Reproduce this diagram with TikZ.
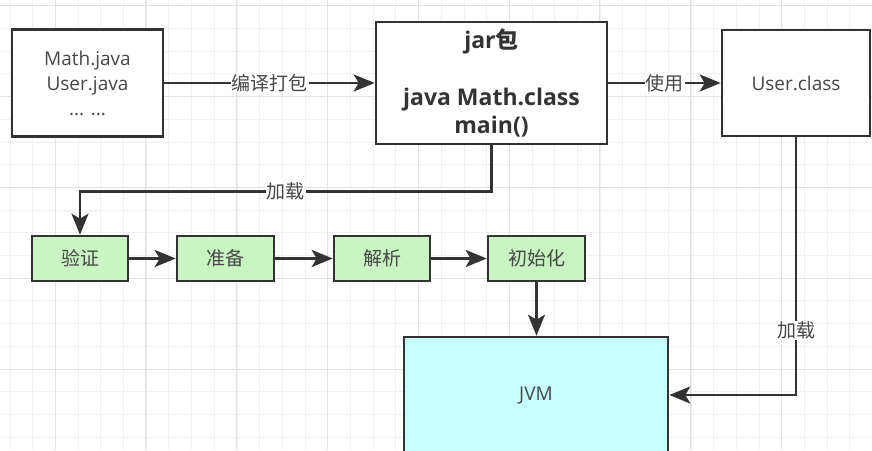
\documentclass[tikz,border=0pt]{standalone}
\usepackage{fontspec}
\setmainfont{Open Sans}
\newfontfamily\cjk{Noto Sans CJK SC}
\usetikzlibrary{arrows.meta}
\definecolor{ink}{HTML}{333333}
\definecolor{txt}{HTML}{474747}
\definecolor{stagefill}{HTML}{C8F5C2}
\definecolor{jvmfill}{HTML}{C6FFFF}
\definecolor{gridminor}{HTML}{F0F0F0}
\definecolor{gridmajor}{HTML}{E2E2E2}

\begin{document}
\begin{tikzpicture}[x=1pt,y=-1pt,
  box/.style={draw=ink, line width=2.6pt, fill=white, inner sep=0pt, align=center,
    text=txt, font=\fontsize{19}{25}\selectfont},
  stage/.style={box, fill=stagefill, minimum height=45pt, font=\cjk\fontsize{19}{25}\selectfont},
  arr/.style={draw=ink, line width=2.5pt, -{Stealth[length=21pt,width=17pt,inset=5pt]}},
  lbl/.style={fill=white, inner sep=1pt, text=txt, font=\cjk\fontsize{19}{22}\selectfont}]

% canvas and background grid
\useasboundingbox (0,0) rectangle (872,450);
\clip (0,0) rectangle (872,450);
\fill[white] (0,0) rectangle (872,450);
\foreach \k in {0,...,38} {
  \pgfmathsetmacro\gx{10+22.7*\k}
  \draw[gridminor, line width=1pt] (\gx,0) -- (\gx,450);
}
\foreach \k in {0,...,19} {
  \pgfmathsetmacro\gy{5.8+22.7*\k}
  \draw[gridminor, line width=1pt] (0,\gy) -- (872,\gy);
}
\foreach \k in {0,...,9} {
  \pgfmathsetmacro\gx{55+90.8*\k}
  \draw[gridmajor, line width=1pt] (\gx,0) -- (\gx,450);
}
\foreach \k in {0,...,4} {
  \pgfmathsetmacro\gy{5.8+90.8*\k}
  \draw[gridmajor, line width=1pt] (0,\gy) -- (872,\gy);
}

% top row
\node[box, minimum width=151pt, minimum height=107pt] (src) at (87.5,83)
  {Math.java\\User.java\\... ...};
\node[box, minimum width=231pt, minimum height=122pt, text=ink,
  font=\bfseries\fontsize{23}{28.5}\selectfont] (jar) at (491.5,83)
  {jar{\cjk\bfseries 包}\\[28.5pt]java Math.class\\main()};
\node[box, minimum width=148pt, minimum height=106pt] (cls) at (796,83) {User.class};

% loading stages
\node[stage, minimum width=96pt] (v) at (80,258.5) {验证};
\node[stage, minimum width=97pt] (p) at (225.5,258.5) {准备};
\node[stage, minimum width=96pt] (r) at (382,258.5) {解析};
\node[stage, minimum width=97pt] (i) at (536.5,258.5) {初始化};

% virtual machine
\node[box, fill=jvmfill, minimum width=264pt, minimum height=116pt] (jvm) at (536,395) {JVM};

% connectors
\draw[arr] (src) -- node[lbl]{编译打包} (jar);
\draw[arr] (jar) -- node[lbl]{使用} (cls);
\draw[arr] (jar.south) -- ++(0,46) -| node[lbl, pos=0.25]{加载} (v.north);
\draw[arr] (v) -- (p);
\draw[arr] (p) -- (r);
\draw[arr] (r) -- (i);
\draw[arr] (i.south) -- (i.south |- jvm.north);
\draw[arr] (cls.south) |- node[lbl, pos=0.375]{加载} (jvm.east);
\end{tikzpicture}
\end{document}
